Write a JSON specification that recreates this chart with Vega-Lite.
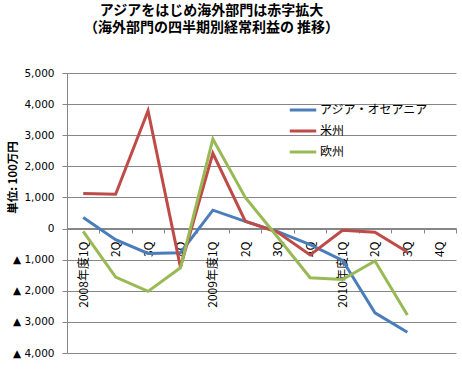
{
  "$schema": "https://vega.github.io/schema/vega-lite/v6.json",
  "width": 389,
  "height": 280,
  "autosize": {"type": "none"},
  "padding": {"left": 67, "top": 73, "right": 6, "bottom": 27},
  "background": "white",
  "title": {
    "text": ["アジアをはじめ海外部門は赤字拡大", "（海外部門の四半期別経常利益の 推移）"],
    "font": "Noto Sans CJK JP",
    "fontSize": 14,
    "fontWeight": "bold",
    "lineHeight": 17,
    "color": "#000",
    "anchor": "middle",
    "frame": "group",
    "dx": -50,
    "offset": 33
  },
  "data": {
    "values": [
      {"period": "2008年度1Q", "region": "アジア・オセアニア", "value": 355},
      {"period": "2008年度2Q", "region": "アジア・オセアニア", "value": -360},
      {"period": "2008年度3Q", "region": "アジア・オセアニア", "value": -800},
      {"period": "2008年度4Q", "region": "アジア・オセアニア", "value": -775},
      {"period": "2009年度1Q", "region": "アジア・オセアニア", "value": 590},
      {"period": "2009年度2Q", "region": "アジア・オセアニア", "value": 230},
      {"period": "2009年度3Q", "region": "アジア・オセアニア", "value": -100},
      {"period": "2009年度4Q", "region": "アジア・オセアニア", "value": -520},
      {"period": "2010年度1Q", "region": "アジア・オセアニア", "value": -1020},
      {"period": "2010年度2Q", "region": "アジア・オセアニア", "value": -2710},
      {"period": "2010年度3Q", "region": "アジア・オセアニア", "value": -3335},
      {"period": "2008年度1Q", "region": "米州", "value": 1130},
      {"period": "2008年度2Q", "region": "米州", "value": 1100},
      {"period": "2008年度3Q", "region": "米州", "value": 3785},
      {"period": "2008年度4Q", "region": "米州", "value": -1240},
      {"period": "2009年度1Q", "region": "米州", "value": 2420},
      {"period": "2009年度2Q", "region": "米州", "value": 235},
      {"period": "2009年度3Q", "region": "米州", "value": -120},
      {"period": "2009年度4Q", "region": "米州", "value": -850},
      {"period": "2010年度1Q", "region": "米州", "value": -55},
      {"period": "2010年度2Q", "region": "米州", "value": -120},
      {"period": "2010年度3Q", "region": "米州", "value": -755},
      {"period": "2008年度1Q", "region": "欧州", "value": -90},
      {"period": "2008年度2Q", "region": "欧州", "value": -1560},
      {"period": "2008年度3Q", "region": "欧州", "value": -2020},
      {"period": "2008年度4Q", "region": "欧州", "value": -1260},
      {"period": "2009年度1Q", "region": "欧州", "value": 2880},
      {"period": "2009年度2Q", "region": "欧州", "value": 1000},
      {"period": "2009年度3Q", "region": "欧州", "value": -280},
      {"period": "2009年度4Q", "region": "欧州", "value": -1580},
      {"period": "2010年度1Q", "region": "欧州", "value": -1640},
      {"period": "2010年度2Q", "region": "欧州", "value": -1045},
      {"period": "2010年度3Q", "region": "欧州", "value": -2780}
    ]
  },
  "mark": {"type": "line", "strokeWidth": 3},
  "encoding": {
    "x": {
      "field": "period",
      "type": "nominal",
      "sort": null,
      "scale": {
        "type": "band",
        "domain": ["2008年度1Q", "2008年度2Q", "2008年度3Q", "2008年度4Q", "2009年度1Q", "2009年度2Q", "2009年度3Q", "2009年度4Q", "2010年度1Q", "2010年度2Q", "2010年度3Q", "2010年度4Q"],
        "paddingInner": 0,
        "paddingOuter": 0
      },
      "axis": {
        "title": null,
        "orient": "bottom",
        "offset": -125,
        "tickBand": "extent",
        "tickSize": 5,
        "tickColor": "#868686",
        "domainColor": "#868686",
        "grid": false,
        "labelAngle": -90,
        "labelAlign": "right",
        "labelBaseline": "middle",
        "labelPadding": 8,
        "labelFont": "Noto Sans CJK JP",
        "labelFontSize": 12,
        "labelColor": "#000",
        "labelExpr": "substring(datum.label, 6) == '1Q' ? datum.label : substring(datum.label, 6)"
      }
    },
    "y": {
      "field": "value",
      "type": "quantitative",
      "scale": {"domain": [-4000, 5000], "nice": false},
      "axis": {
        "values": [-4000, -3000, -2000, -1000, 0, 1000, 2000, 3000, 4000, 5000],
        "title": "単位: 100万円",
        "titleFont": "Noto Sans CJK JP",
        "titleFontSize": 11.5,
        "titleFontWeight": "bold",
        "titleColor": "#000",
        "titleAngle": -90,
        "titleX": -54,
        "titleY": 104,
        "titleAlign": "center",
        "titleBaseline": "middle",
        "labelExpr": "datum.value < 0 ? '▲ ' + format(-datum.value, ',') : format(datum.value, ',')",
        "labelFont": "DejaVu Sans",
        "labelFontSize": 10.5,
        "labelColor": "#000",
        "labelPadding": 8,
        "tickSize": 5,
        "tickColor": "#868686",
        "domainColor": "#868686",
        "grid": true,
        "gridColor": "#868686",
        "gridOpacity": 1
      }
    },
    "color": {
      "field": "region",
      "type": "nominal",
      "scale": {
        "domain": ["アジア・オセアニア", "米州", "欧州"],
        "range": ["#4A7EBB", "#BE4B48", "#98B954"]
      },
      "legend": {
        "orient": "none",
        "legendX": 221,
        "legendY": 22,
        "title": null,
        "padding": 0,
        "rowPadding": -7,
        "symbolType": "stroke",
        "symbolSize": 700,
        "symbolStrokeWidth": 3,
        "labelFont": "Noto Sans CJK JP",
        "labelFontSize": 12,
        "labelColor": "#000",
        "labelOffset": 2
      }
    }
  },
  "config": {"view": {"stroke": null}}
}
